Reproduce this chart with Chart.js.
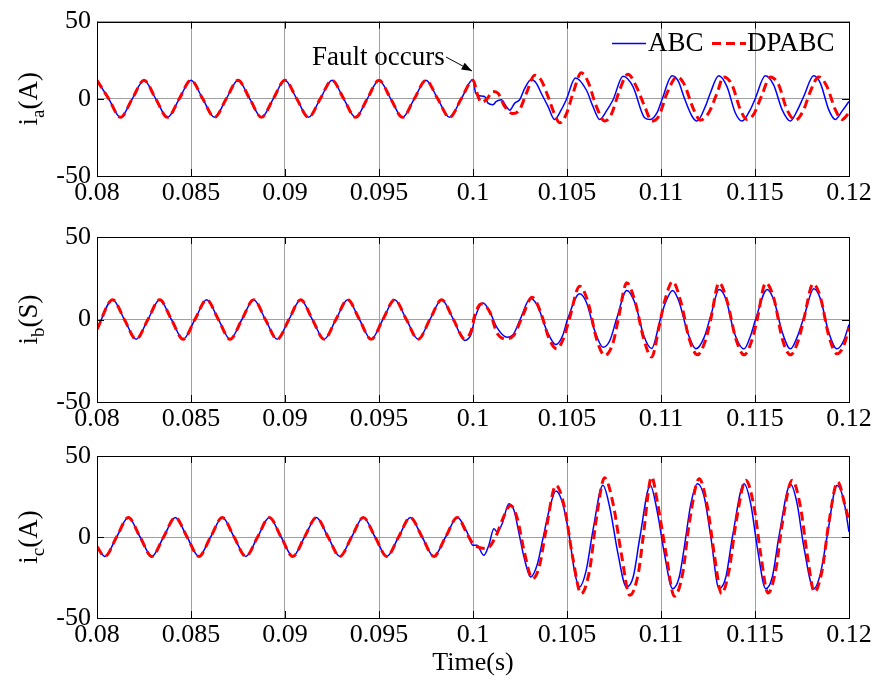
<!DOCTYPE html>
<html>
<head>
<meta charset="utf-8">
<script src="https://cdn.jsdelivr.net/npm/chart.js@4.4.0/dist/chart.umd.min.js"></script>
<style>
  html, body { margin: 0; padding: 0; background: #fff; }
  #wrap { position: relative; width: 879px; height: 680px; }
  canvas { position: absolute; left: 0; }
</style>
</head>
<body>
<div id="wrap">
  <canvas id="graf_a" width="879" height="210" style="top:0px"></canvas>
  <canvas id="graf_b" width="879" height="220" style="top:210px"></canvas>
  <canvas id="graf_c" width="879" height="250" style="top:430px"></canvas>
</div>
<script>
// eixos
const timeTicks = [0.08, 0.085, 0.09, 0.095, 0.1, 0.105, 0.11, 0.115, 0.12]
const timeTickLabels = ['0.08', '0.085', '0.09', '0.095', '0.1', '0.105', '0.11', '0.115', '0.12']
const yTicks = [-50, 0, 50]
const yTickLabels = ['-50', '0', '50']
const seriesNames = ['ABC', 'DPABC']

// fase a - antes da falta (igual nas duas curvas)
const tPreA = [0.08,0.080625,0.08125,0.081875,0.0825,0.083125,0.08375,0.084375,0.085,0.085625,0.08625,0.086875,0.0875,0.088125,0.08875,0.089375,0.09,0.090625,0.09125,0.091875,0.0925,0.093125,0.09375,0.094375,0.095,0.095625,0.09625,0.096875,0.0975,0.098125,0.09875,0.099375]
const iPreA = [12,0,-12,0,12,0,-12,0,12,0,-12,0,12,0,-12,0,12,0,-12,0,12,0,-12,0,12,0,-12,0,12,0,-12,0]
// fase a - depois da falta
const tPostA_abc = [0.1,0.10014,0.10035,0.10062,0.1008,0.10106,0.10124,0.1015,0.10177,0.10195,0.10222,0.10248,0.10275,0.1031,0.10337,0.10363,0.10399,0.10434,0.1047,0.10496,0.10545,0.10603,0.10638,0.10674,0.10709,0.10745,0.10798,0.10851,0.10913,0.10943,0.10979,0.11005,0.11059,0.11094,0.11121,0.11165,0.11191,0.11236,0.11262,0.11307,0.11351,0.11395,0.11431,0.11475,0.11502,0.11555,0.11599,0.11644,0.11688,0.11723,0.11759,0.11812,0.11848,0.11892,0.11927,0.11963,0.12]
const iPostA_abc = [12.5,3.6,1.9,1.5,-2.8,-3.8,-1.7,-0.6,-4.9,-7.4,-2.8,-0.6,6.8,12.5,10,3.6,-4.9,-13.4,-7,-0.6,13.5,5.7,-4.9,-13.4,-8,-0.6,14.6,7.9,-12.3,-13.4,-9,-0.6,14.9,11,1.5,-11.3,-14.4,-4.9,3.6,14.9,7.9,-9,-14.4,-7,0.4,14.9,9,-7,-14.4,-8,1.5,14.9,10,-7,-13.4,-8,-1.7]
const tPostA_dp = [0.1,0.10027,0.10044,0.10071,0.10106,0.10133,0.10168,0.10213,0.10248,0.10284,0.10328,0.10363,0.10399,0.10434,0.10461,0.10496,0.10532,0.10576,0.10612,0.10656,0.107,0.10736,0.1078,0.10824,0.10869,0.10913,0.10952,0.10988,0.11032,0.11085,0.11121,0.11174,0.11209,0.11254,0.11298,0.11333,0.11378,0.11422,0.11457,0.11493,0.11537,0.11582,0.11626,0.1167,0.11715,0.11759,0.11794,0.11839,0.11883,0.11927,0.11963,0.12]
const iPostA_dp = [12,1.5,-2.3,-0.6,4.7,3.6,-4.9,-9.6,-7,3.6,15.3,12,1.5,-10,-15.5,-10,3.6,16.8,11,-4.9,-14.4,-10,5.7,15.9,7.9,-4.9,-14.4,-11.3,3.6,14.2,10,-7,-13.8,-9,3.6,14.2,9,-7,-13.4,-10,2.5,14.2,9,-7,-13.8,-7,4.7,14.2,7.9,-7,-13.4,-9]

// fase b
const tPreB = [0.08,0.080833,0.081458,0.082083,0.082708,0.083333,0.083958,0.084583,0.085208,0.085833,0.086458,0.087083,0.087708,0.088333,0.088958,0.089583,0.090208,0.090833,0.091458,0.092083,0.092708,0.093333,0.093958,0.094583,0.095208,0.095833,0.096458,0.097083,0.097708,0.098333,0.098958]
const iPreB = [-6,12,0,-12,0,12,0,-12,0,12,0,-12,0,12,0,-12,0,12,0,-12,0,12,0,-12,0,12,0,-12,0,12,0]
const tPostB_abc = [0.09955,0.09991,0.10009,0.10054,0.1009,0.10126,0.1018,0.10216,0.10252,0.10306,0.10342,0.10396,0.10441,0.10477,0.10504,0.10567,0.10603,0.10647,0.10692,0.10728,0.10764,0.10818,0.10863,0.10908,0.1095,0.10996,0.11018,0.11062,0.11097,0.11141,0.11186,0.1123,0.11265,0.11309,0.11345,0.11389,0.11442,0.11477,0.11504,0.11565,0.11601,0.11645,0.11689,0.11724,0.1176,0.11813,0.11848,0.11892,0.11936,0.11972,0.12]
const iPostB_abc = [-12.7,-8.7,0.4,10,4.4,-4.6,-10.7,-8.7,0.4,12.9,8.5,-7.7,-15.2,-9.7,0.4,15.6,10.5,-6.7,-16.8,-12.7,0.4,17.6,9.5,-9.7,-17.6,0,8.5,17.6,10.5,-7.7,-17.8,-10.7,2.4,18.2,12.5,-7.7,-17.8,-9.7,0.4,18.2,11.5,-7.7,-17.8,-10.7,1.4,18.6,12.5,-7.7,-17.8,-12.7,-3]
const tPostB_dp = [0.09955,0.09991,0.10009,0.10045,0.1009,0.10126,0.10171,0.10216,0.10261,0.10315,0.1036,0.10405,0.10446,0.10477,0.10513,0.10567,0.10612,0.10657,0.10701,0.10746,0.10773,0.10818,0.10863,0.10908,0.1095,0.10991,0.11018,0.11062,0.11106,0.1115,0.11194,0.11239,0.11265,0.11309,0.11353,0.11398,0.11442,0.11486,0.11512,0.11557,0.11601,0.11645,0.11689,0.11733,0.1176,0.11809,0.11848,0.11892,0.11936,0.11972,0.12]
const iPostB_dp = [-11.5,-6.7,2.4,9.5,4.4,-7.7,-11.7,-9.7,1.4,13.5,4.4,-11.7,-17.8,-12.7,0.4,20.2,10.5,-11.7,-21.8,-13.7,0.4,22.2,10.5,-11.7,-22.8,-3.6,10.5,23,10.5,-11.7,-21.4,-11.7,0.4,22.2,10.5,-11.7,-21.4,-11.7,0.4,22.2,12.5,-11.7,-21.4,-11.7,0.4,21.6,13.5,-9.7,-20.8,-15.8,-5]

// fase c
const tPreC = [0.08,0.080417,0.081042,0.081667,0.082292,0.082917,0.083542,0.084167,0.084792,0.085417,0.086042,0.086667,0.087292,0.087917,0.088542,0.089167,0.089792,0.090417,0.091042,0.091667,0.092292,0.092917,0.093542,0.094167,0.094792,0.095417,0.096042,0.096667,0.097292,0.097917,0.098542,0.099167]
const iPreC = [-6,-12,0,12,0,-12,0,12,0,-12,0,12,0,-12,0,12,0,-12,0,12,0,-12,0,12,0,-12,0,12,0,-12,0,12]
const tPostC_abc = [0.09968,0.1,0.10021,0.10057,0.10084,0.10111,0.10129,0.10155,0.10191,0.10218,0.10245,0.10271,0.10307,0.10343,0.1037,0.10405,0.10441,0.10477,0.10513,0.10539,0.10566,0.10602,0.10638,0.10691,0.10727,0.10771,0.10816,0.10852,0.10888,0.10943,0.10982,0.11018,0.11062,0.11097,0.11124,0.11159,0.11194,0.1123,0.11265,0.11309,0.11345,0.1138,0.11442,0.11477,0.11512,0.11557,0.11592,0.11627,0.11689,0.11724,0.1176,0.11813,0.11848,0.11883,0.11936,0.11972,0.12]
const iPostC_abc = [3.1,-5.1,-5.1,-11.3,-5.1,5.1,3.1,8.2,20.6,16.5,2.1,-12.3,-24.7,-16.5,-2.1,16.5,28.4,20.6,0,-20.6,-30.9,-20.6,4.1,31.9,18.5,-10.3,-30.9,-24.7,0,32,14.4,-10.3,-31.9,-24.7,-6.2,20.6,32.9,24.7,0,-31.9,-24.7,0,32.9,20.6,-6.2,-31.9,-24.7,0,32.5,20.6,-6.2,-31.9,-22.6,0,31.9,22.6,3.1]
const tPostC_dp = [0.09968,0.1,0.10039,0.10072,0.1012,0.10155,0.102,0.10236,0.10271,0.10316,0.10352,0.10388,0.10441,0.10486,0.1053,0.10575,0.1062,0.10655,0.107,0.10745,0.10789,0.10834,0.10879,0.10905,0.1095,0.10982,0.11027,0.11071,0.11115,0.1115,0.11203,0.11247,0.11283,0.11322,0.11362,0.11398,0.11451,0.11495,0.1153,0.11569,0.1161,0.11645,0.11698,0.11742,0.11777,0.11816,0.11857,0.11892,0.1194,0.11981,0.12]
const iPostC_dp = [2.1,-4.1,-6.6,-7.2,0,10.3,19.5,11.3,-8.2,-25.7,-18.5,4.1,31.9,18.5,-12.3,-35,-20.6,10.3,36.6,20.6,-10.3,-36,-22.6,0,37,20.6,-10.3,-36.6,-22.6,8.2,36,18.5,-10.3,-35,-20.6,8.2,35,18.5,-10.3,-34.6,-20.6,8.2,35,18.5,-10.3,-34,-20.6,8.2,34,18.5,10]

const FONT = "'Liberation Serif', 'Times New Roman', serif"

function pts(tArr, iArr) {
  return tArr.map((t, k) => ({ x: t, y: iArr[k] }))
}

// moldura, marcas e rótulo do eixo y (com subscrito)
function panelDecor(sub, unit, extra) {
  return {
    id: 'panelDecor',
    afterDraw(chart) {
      const { ctx, chartArea: a } = chart
      const xs = chart.scales.x, ys = chart.scales.y
      ctx.save()
      ctx.strokeStyle = '#000'
      ctx.lineWidth = 1
      ctx.beginPath()
      timeTicks.forEach(v => {
        const px = Math.round(xs.getPixelForValue(v)) + 0.5
        ctx.moveTo(px, a.top); ctx.lineTo(px, a.top + 7)
        ctx.moveTo(px, a.bottom); ctx.lineTo(px, a.bottom - 7)
      })
      yTicks.forEach(v => {
        const py = Math.round(ys.getPixelForValue(v)) + 0.5
        ctx.moveTo(a.left, py); ctx.lineTo(a.left + 7, py)
        ctx.moveTo(a.right, py); ctx.lineTo(a.right - 7, py)
      })
      ctx.stroke()
      ctx.strokeRect(Math.round(a.left) + 0.5, Math.round(a.top) + 0.5, Math.round(a.right - a.left), Math.round(a.bottom - a.top))

      // rótulo y
      const cy = (a.top + a.bottom) / 2
      ctx.translate(37, cy)
      ctx.rotate(-Math.PI / 2)
      ctx.fillStyle = '#000'
      ctx.textAlign = 'left'
      ctx.textBaseline = 'alphabetic'
      const big = '27px ' + FONT, small = '19px ' + FONT
      ctx.font = big
      const w1 = ctx.measureText('i').width
      const w3 = ctx.measureText(unit).width
      ctx.font = small
      const w2 = ctx.measureText(sub).width
      let u = -(w1 + w2 + w3) / 2
      ctx.font = big; ctx.fillText('i', u, 0); u += w1
      ctx.font = small; ctx.fillText(sub, u, 7); u += w2
      ctx.font = big; ctx.fillText(unit, u, 0)
      ctx.restore()
      if (extra) extra(chart)
    }
  }
}

// legenda e anotação "Fault occurs" no primeiro gráfico
function legendAndNote(chart) {
  const ctx = chart.ctx
  ctx.save()
  ctx.font = '27px ' + FONT
  ctx.fillStyle = '#000'
  ctx.textBaseline = 'middle'
  ctx.textAlign = 'left'
  // ABC
  ctx.strokeStyle = '#0000ff'
  ctx.lineWidth = 1.4
  ctx.beginPath(); ctx.moveTo(612, 43.5); ctx.lineTo(646, 43.5); ctx.stroke()
  ctx.fillText(seriesNames[0], 648, 44)
  // DPABC
  ctx.strokeStyle = '#ff0000'
  ctx.lineWidth = 3
  ctx.setLineDash([9, 5])
  ctx.beginPath(); ctx.moveTo(712, 43.5); ctx.lineTo(746, 43.5); ctx.stroke()
  ctx.setLineDash([])
  ctx.fillText(seriesNames[1], 747, 44)
  // anotação
  ctx.fillText('Fault occurs', 312, 58)
  ctx.strokeStyle = '#000'
  ctx.lineWidth = 1
  const x0 = 446, y0 = 57, x1 = 472, y1 = 71
  ctx.beginPath(); ctx.moveTo(x0, y0); ctx.lineTo(x1, y1); ctx.stroke()
  const ang = Math.atan2(y1 - y0, x1 - x0)
  ctx.beginPath()
  ctx.moveTo(x1, y1)
  ctx.lineTo(x1 - 11 * Math.cos(ang - 0.35), y1 - 11 * Math.sin(ang - 0.35))
  ctx.lineTo(x1 - 11 * Math.cos(ang + 0.35), y1 - 11 * Math.sin(ang + 0.35))
  ctx.closePath()
  ctx.fillStyle = '#000'
  ctx.fill()
  ctx.restore()
}

function makeChart(id, abc, dpabc, cfg) {
  return new Chart(document.getElementById(id), {
    type: 'line',
    data: {
      datasets: [
        { label: seriesNames[0], data: abc, borderColor: '#0000ff', borderWidth: 1.5, order: 1 },
        { label: seriesNames[1], data: dpabc, borderColor: '#ff0000', borderWidth: 3, borderDash: [9, 5], order: 0 }
      ]
    },
    options: {
      responsive: false,
      animation: false,
      events: [],
      layout: { padding: { top: cfg.top, right: 30, left: 0, bottom: 0 } },
      elements: {
        point: { radius: 0 },
        line: { cubicInterpolationMode: 'monotone', fill: false }
      },
      plugins: { legend: { display: false }, tooltip: { enabled: false } },
      scales: {
        x: {
          type: 'linear',
          min: 0.08,
          max: 0.12,
          afterBuildTicks: s => { s.ticks = timeTicks.map(v => ({ value: v })) },
          afterFit: s => { s.height = cfg.xh },
          ticks: {
            callback: (v, k) => timeTickLabels[k],
            font: { family: FONT, size: 26 },
            color: '#000',
            padding: 2,
            maxRotation: 0,
            autoSkip: false
          },
          grid: { color: '#a0a0a0', drawTicks: false },
          border: { display: false },
          title: {
            display: !!cfg.xTitle,
            text: cfg.xTitle || '',
            font: { family: FONT, size: 26 },
            color: '#000',
            padding: { top: 0, bottom: 1 }
          }
        },
        y: {
          min: -50,
          max: 50,
          afterBuildTicks: s => { s.ticks = yTicks.map(v => ({ value: v })) },
          afterFit: s => { s.width = 97 },
          ticks: {
            callback: (v, k) => yTickLabels[k],
            font: { family: FONT, size: 26 },
            color: '#000',
            padding: 6
          },
          grid: { color: '#a0a0a0', drawTicks: false },
          border: { display: false }
        }
      }
    },
    plugins: [panelDecor(cfg.sub, cfg.unit, cfg.extra)]
  })
}

let graf_a = makeChart('graf_a',
  pts(tPreA, iPreA).concat(pts(tPostA_abc, iPostA_abc)),
  pts(tPreA, iPreA).concat(pts(tPostA_dp, iPostA_dp)),
  { top: 19, xh: 34, sub: 'a', unit: '(A)', extra: legendAndNote })

let graf_b = makeChart('graf_b',
  pts(tPreB, iPreB).concat(pts(tPostB_abc, iPostB_abc)),
  pts(tPreB, iPreB).concat(pts(tPostB_dp, iPostB_dp)),
  { top: 27, xh: 28, sub: 'b', unit: '(S)' })

let graf_c = makeChart('graf_c',
  pts(tPreC, iPreC).concat(pts(tPostC_abc, iPostC_abc)),
  pts(tPreC, iPreC).concat(pts(tPostC_dp, iPostC_dp)),
  { top: 26, xh: 62, sub: 'c', unit: '(A)', xTitle: 'Time(s)' })
</script>
</body>
</html>
